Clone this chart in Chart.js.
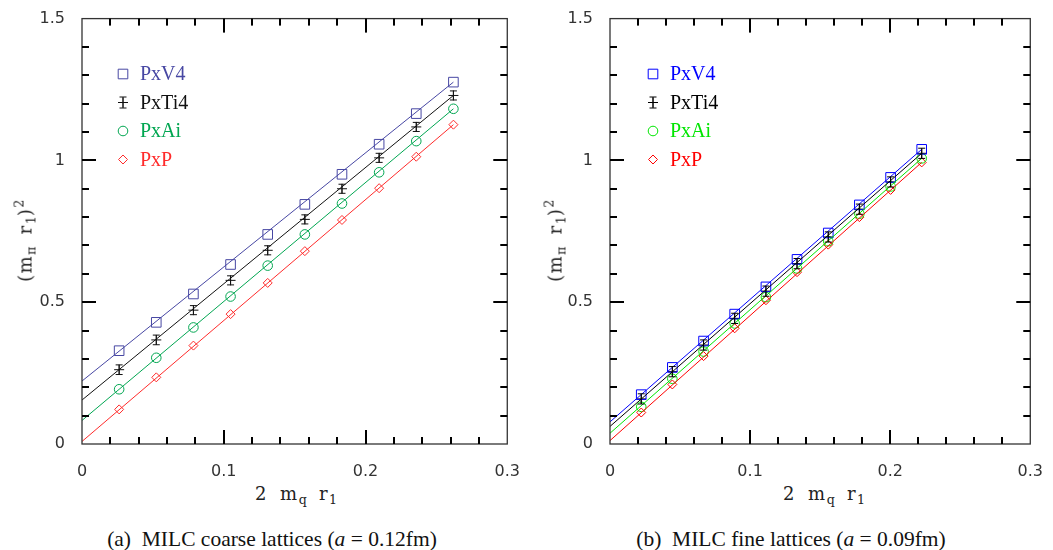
<!DOCTYPE html>
<html>
<head>
<meta charset="utf-8">
<script src="https://cdn.jsdelivr.net/npm/chart.js@4.4.1/dist/chart.umd.min.js"></script>
<style>
  body { margin: 0; background: #fff; width: 1053px; height: 550px; position: relative; overflow: hidden; }
  canvas { position: absolute; top: 0; }
  .lab { position: absolute; font-family: "DejaVu Serif", serif; font-size: 18px; letter-spacing: 1.5px; word-spacing: 5px; color: #222; white-space: nowrap; transform: translate(-50%, -50%); }
  .lab.rot { transform: translate(-50%, -50%) rotate(-90deg); }
  .lab sub { font-size: 70%; vertical-align: -4px; letter-spacing: 0; }
  .lab sup { font-size: 70%; vertical-align: 8px; }
  .cap { position: absolute; font-family: "Liberation Serif", serif; font-size: 21.5px; color: #111; white-space: nowrap; transform: translate(-50%, -50%); }
</style>
</head>
<body>
<canvas id="coarse" width="530" height="480" style="left:0"></canvas>
<canvas id="fine" width="523" height="480" style="left:530px"></canvas>

<div class="lab rot" style="left:25px; top:240px">(m<sub>&pi;</sub> r<sub>1</sub>)<sup>2</sup></div>
<div class="lab rot" style="left:555px; top:240px">(m<sub>&pi;</sub> r<sub>1</sub>)<sup>2</sup></div>
<div class="lab" style="left:296px; top:495px">2 m<sub>q</sub> r<sub>1</sub></div>
<div class="lab" style="left:824px; top:495px">2 m<sub>q</sub> r<sub>1</sub></div>
<div class="cap" style="left:272px; top:539px">(a)&nbsp; MILC coarse lattices (<i>a</i> = 0.12fm)</div>
<div class="cap" style="left:791px; top:539px">(b)&nbsp; MILC fine lattices (<i>a</i> = 0.09fm)</div>

<script>
// coarse lattices (a = 0.12fm)
const coarseX = [0.0262, 0.0524, 0.0786, 0.1048, 0.131, 0.1572, 0.1834, 0.2096, 0.2358, 0.262];
const coarseV4 = [0.329, 0.429, 0.529, 0.633, 0.739, 0.845, 0.951, 1.057, 1.165, 1.276];
const coarseTi4 = [0.262, 0.367, 0.472, 0.577, 0.683, 0.792, 0.900, 1.009, 1.118, 1.229];
const coarseAi = [0.193, 0.304, 0.411, 0.520, 0.629, 0.739, 0.848, 0.958, 1.068, 1.182];
const coarseP = [0.122, 0.235, 0.347, 0.458, 0.568, 0.680, 0.790, 0.902, 1.013, 1.126];
const coarseTi4Err = [0.017, 0.017, 0.016, 0.016, 0.016, 0.016, 0.016, 0.016, 0.016, 0.016];
const coarseFitX = [0, 0.262];
const coarseFitV4 = [0.222, 1.276];
const coarseFitTi4 = [0.155, 1.229];
const coarseFitAi = [0.083, 1.182];
const coarseFitP = [0.009, 1.126];

// fine lattices (a = 0.09fm)
const fineX = [0.0223, 0.0445, 0.0668, 0.089, 0.1113, 0.1335, 0.1558, 0.178, 0.2003, 0.2225];
const fineV4 = [0.174, 0.270, 0.363, 0.458, 0.554, 0.651, 0.744, 0.843, 0.940, 1.039];
const fineTi4 = [0.159, 0.255, 0.349, 0.443, 0.539, 0.636, 0.730, 0.828, 0.924, 1.025];
const fineAi = [0.131, 0.230, 0.326, 0.425, 0.518, 0.619, 0.715, 0.812, 0.908, 1.007];
const fineP = [0.111, 0.210, 0.310, 0.408, 0.507, 0.606, 0.703, 0.800, 0.896, 0.993];
const fineTi4Err = [0.018, 0.018, 0.018, 0.018, 0.018, 0.018, 0.018, 0.018, 0.018, 0.018];
const fineFitX = [0, 0.2225];
const fineFitV4 = [0.078, 1.039];
const fineFitTi4 = [0.062, 1.025];
const fineFitAi = [0.038, 1.007];
const fineFitP = [0.012, 0.993];

// tick mark spacing along each axis (minor step, major every 5th)
const xMinorStep = 0.02;
const yMinorStep = 0.1;

const seriesNames = ["PxV4", "PxTi4", "PxAi", "PxP"];
const pointStyles = ["rect", "cross", "circle", "rectRot"];
const pointSizes = [6.8, 5, 4.8, 4.5];

const coarseColors = ["#4747a3", "#111111", "#00a651", "#ff2b2b"];
const fineColors = ["#0000ff", "#000000", "#00e600", "#ff0000"];

const tickFont = { family: "DejaVu Sans", size: 16 };

function pairs(xs, ys) {
  return xs.map((x, i) => ({ x: x, y: ys[i] }));
}

function makeDatasets(xs, series, fitX, fits, colors) {
  const sets = [];
  // fit lines first so the markers sit on top
  fits.forEach((f, i) => {
    sets.push({
      type: "line",
      data: pairs(fitX, f),
      borderColor: colors[i],
      borderWidth: 1,
      pointRadius: 0,
      fill: false
    });
  });
  series.forEach((s, i) => {
    sets.push({
      label: seriesNames[i],
      data: pairs(xs, s),
      pointStyle: pointStyles[i],
      pointRadius: pointSizes[i],
      pointBorderColor: colors[i],
      pointBackgroundColor: "rgba(0,0,0,0)",
      pointBorderWidth: 1,
      showLine: false
    });
  });
  return sets;
}

function errorBar(ctx, x, top, bot) {
  ctx.beginPath();
  ctx.moveTo(x, top); ctx.lineTo(x, bot);
  ctx.moveTo(x - 3.5, top); ctx.lineTo(x + 3.5, top);
  ctx.moveTo(x - 3.5, bot); ctx.lineTo(x + 3.5, bot);
  ctx.stroke();
}

// box round the plot with ticks pointing inwards on all four sides
const tickPlugin = {
  id: "inticks",
  afterDraw(chart) {
    const ctx = chart.ctx;
    const a = chart.chartArea;
    const sx = chart.scales.x, sy = chart.scales.y;
    ctx.save();
    ctx.globalAlpha = 1;
    ctx.strokeStyle = "#333333";
    ctx.lineWidth = 1.3;
    ctx.strokeRect(a.left, a.top, a.right - a.left, a.bottom - a.top);
    ctx.fillStyle = "#000000";
    for (let i = 1; i < 15; i++) {
      const px = Math.round(sx.getPixelForValue(i * xMinorStep)) - 1;
      const len = i % 5 === 0 ? 14 : 7;
      ctx.fillRect(px, a.bottom - len, 2, len);
      ctx.fillRect(px, a.top, 2, len);
    }
    for (let i = 1; i < 15; i++) {
      const py = Math.round(sy.getPixelForValue(i * yMinorStep)) - 1;
      const len = i % 5 === 0 ? 14 : 7;
      ctx.fillRect(a.left, py, len, 2);
      ctx.fillRect(a.right - len, py, len, 2);
    }
    ctx.restore();
  }
};

// error bars and legend
const framePlugin = {
  id: "frame",
  afterDraw(chart, args, opts) {
    const colors = opts.colors;
    const err = opts.err;
    const ctx = chart.ctx;
    const sy = chart.scales.y;
    ctx.save();

    // error bars on PxTi4
    const meta = chart.getDatasetMeta(5);
    const vals = chart.data.datasets[5].data;
    ctx.strokeStyle = colors[1];
    ctx.lineWidth = 1;
    meta.data.forEach((pt, i) => {
      const v = vals[i].y;
      errorBar(ctx, pt.x, sy.getPixelForValue(v + err[i]), sy.getPixelForValue(v - err[i]));
    });

    // legend
    ctx.font = '20px "Liberation Serif"';
    ctx.textBaseline = "middle";
    ctx.textAlign = "left";
    seriesNames.forEach((name, i) => {
      const y = 74 + i * 28.5;
      const x = 123;
      ctx.strokeStyle = colors[i];
      ctx.fillStyle = "rgba(0,0,0,0)";
      ctx.lineWidth = 1;
      Chart.helpers.drawPoint(ctx, {
        pointStyle: pointStyles[i],
        radius: pointSizes[i],
        borderWidth: 1,
        rotation: 0
      }, x, y);
      if (i === 1) {
        errorBar(ctx, x, y - 5.5, y + 5.5);
      }
      ctx.fillStyle = colors[i];
      ctx.fillText(name, 140, y + 1);
    });
    ctx.restore();
  }
};

function fmt(v) {
  return String(Math.round(v * 100) / 100);
}

function buildChart(id, datasets, colors, err, yWidth, padRight) {
  return new Chart(document.getElementById(id), {
    type: "scatter",
    data: { datasets: datasets },
    options: {
      responsive: false,
      animation: false,
      layout: { padding: { left: 0, top: 16, right: padRight, bottom: 0 } },
      plugins: {
        legend: { display: false },
        tooltip: { enabled: false },
        frame: { colors: colors, err: err }
      },
      scales: {
        x: {
          type: "linear",
          min: 0,
          max: 0.3,
          afterFit: (s) => { s.height = 36; },
          grid: { display: false },
          border: { display: false },
          ticks: { stepSize: 0.1, padding: 10, color: "#333", font: tickFont, maxRotation: 0, callback: fmt }
        },
        y: {
          type: "linear",
          min: 0,
          max: 1.5,
          afterFit: (s) => { s.width = yWidth; },
          grid: { display: false },
          border: { display: false },
          ticks: { stepSize: 0.5, padding: 9, color: "#333", font: tickFont, callback: fmt }
        }
      }
    },
    plugins: [framePlugin, tickPlugin]
  });
}

buildChart("coarse",
  makeDatasets(coarseX, [coarseV4, coarseTi4, coarseAi, coarseP], coarseFitX,
    [coarseFitV4, coarseFitTi4, coarseFitAi, coarseFitP], coarseColors),
  coarseColors, coarseTi4Err, 82, 21);

buildChart("fine",
  makeDatasets(fineX, [fineV4, fineTi4, fineAi, fineP], fineFitX,
    [fineFitV4, fineFitTi4, fineFitAi, fineFitP], fineColors),
  fineColors, fineTi4Err, 80, 15);
</script>
</body>
</html>
